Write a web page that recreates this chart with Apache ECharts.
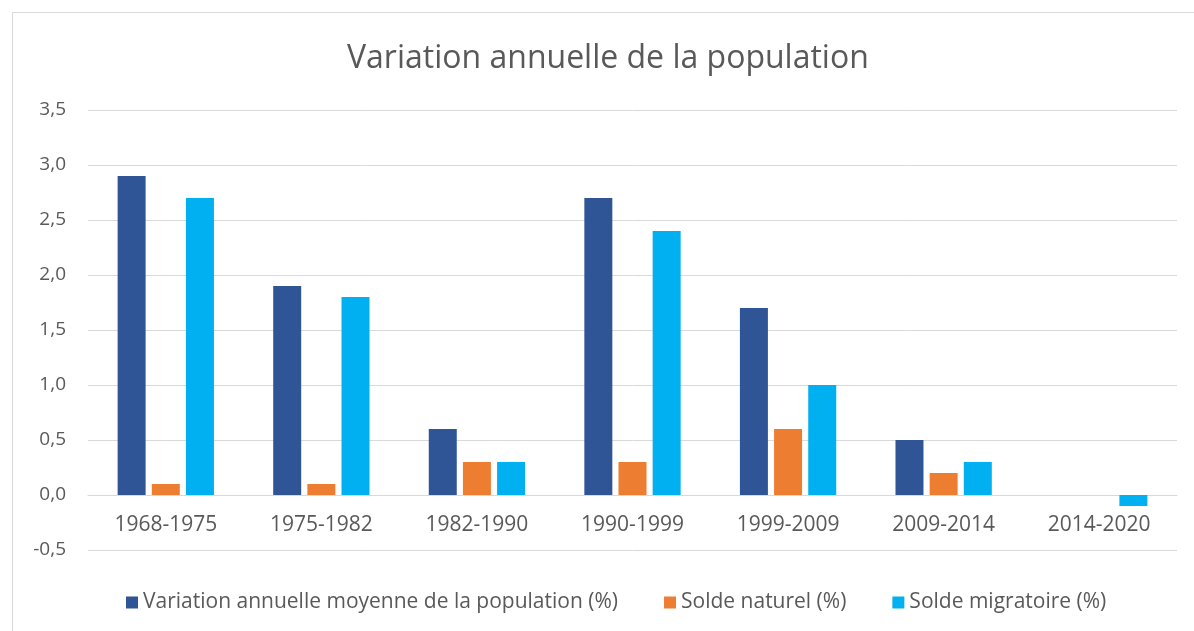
<!DOCTYPE html>
<html>
<head>
<meta charset="utf-8">
<script src="https://cdn.jsdelivr.net/npm/echarts@6/dist/echarts.min.js"></script>
<style>
  html, body { margin: 0; padding: 0; background: #fff; }
  #frame { position: absolute; left: 12px; top: 12px; width: 1200px; height: 640px; border: 1px solid #d9d9d9; box-sizing: border-box; }
  #chart { position: absolute; left: 0; top: 0; width: 1194px; height: 631px; }
</style>
</head>
<body>
<div id="frame"></div>
<div id="chart"></div>
<script>
var periodes = ['1968-1975', '1975-1982', '1982-1990', '1990-1999', '1999-2009', '2009-2014', '2014-2020'];
var variationMoyenne = [2.9, 1.9, 0.6, 2.7, 1.7, 0.5, 0.0];
var soldeNaturel = [0.1, 0.1, 0.3, 0.3, 0.6, 0.2, 0.0];
var soldeMigratoire = [2.7, 1.8, 0.3, 2.4, 1.0, 0.3, -0.1];
var seriesNames = ['Variation annuelle moyenne de la population (%)', 'Solde naturel (%)', 'Solde migratoire (%)'];

var police = 'Open Sans, sans-serif';

var myCharts = echarts.init(document.getElementById('chart'));
var option = {
    color: ['#2F5597', '#ED7D31', '#00B0F0'],
    animation: false,
    title: {
        text: 'Variation annuelle de la population',
        left: 342,
        top: 38,
        textStyle: { fontFamily: police, fontWeight: 'normal', fontSize: 32, color: '#595959' }
    },
    legend: {
        top: 587,
        left: 121,
        itemWidth: 12,
        itemHeight: 12,
        itemGap: 46,
        icon: 'rect',
        textStyle: { fontFamily: police, fontSize: 21, color: '#595959' },
        data: seriesNames
    },
    grid: { left: 88, right: 17, top: 110, bottom: 81 },
    xAxis: {
        type: 'category',
        data: periodes,
        offset: -55,
        axisLine: { onZero: false, lineStyle: { color: '#d9d9d9' } },
        axisTick: { show: false },
        axisLabel: { fontFamily: police, fontSize: 21, color: '#595959', margin: 20 }
    },
    yAxis: {
        type: 'value',
        min: -0.5,
        max: 3.5,
        interval: 0.5,
        axisLabel: {
            fontFamily: police, fontSize: 19, color: '#595959', margin: 22,
            formatter: function (v) { return v.toFixed(1).replace('.', ','); }
        },
        splitLine: { lineStyle: { color: '#d9d9d9' } }
    },
    series: [
        { name: seriesNames[0], type: 'bar', data: variationMoyenne, barWidth: 28, barGap: '22%' },
        { name: seriesNames[1], type: 'bar', data: soldeNaturel, barWidth: 28, barGap: '22%' },
        { name: seriesNames[2], type: 'bar', data: soldeMigratoire, barWidth: 28, barGap: '22%' }
    ]
};
myCharts.setOption(option);
</script>
</body>
</html>
